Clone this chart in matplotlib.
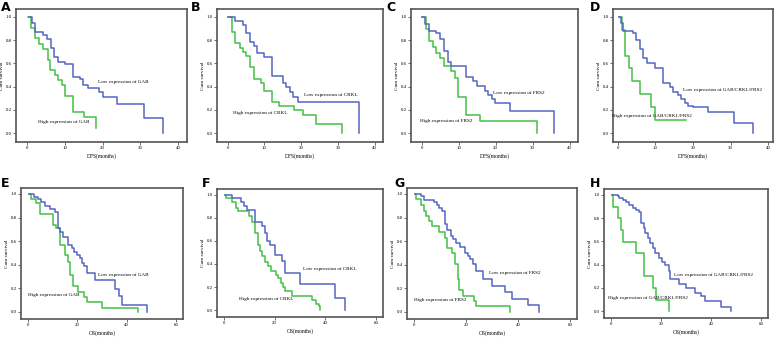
import matplotlib
matplotlib.use("Agg")
import matplotlib.pyplot as plt

# ---- data (Kaplan-Meier steps) ----
# DFS panels
a_low_t = [0.5, 1.4, 2.1, 4.3, 5.2, 6.3, 7.1, 8.3, 10.0, 12.1, 14.0, 14.9, 16.0, 19.0, 20.2, 23.9, 30.9, 36.0]
a_low_s = [1.0, 0.943, 0.866, 0.843, 0.809, 0.729, 0.651, 0.614, 0.594, 0.48, 0.466, 0.414, 0.386, 0.357, 0.314, 0.254, 0.129, 0.0]
a_high_t = [0.4, 1.1, 2.1, 3.3, 4.3, 5.5, 6.1, 7.4, 8.3, 9.2, 10.0, 12.1, 15.1, 18.2]
a_high_s = [1.0, 0.9, 0.82, 0.77, 0.72, 0.63, 0.54, 0.5, 0.46, 0.41, 0.32, 0.18, 0.14, 0.045]

b_low_t = [0.2, 1.9, 4.1, 5.0, 6.2, 7.2, 8.1, 10.0, 12.0, 15.1, 16.0, 16.9, 17.9, 19.1, 35.9]
b_low_s = [1.0, 0.963, 0.93, 0.857, 0.786, 0.75, 0.686, 0.65, 0.49, 0.434, 0.394, 0.357, 0.314, 0.266, 0.0]
b_high_t = [0.2, 1.2, 2.1, 3.3, 4.1, 5.0, 6.2, 7.2, 9.1, 10.0, 12.0, 14.1, 18.2, 20.4, 24.1, 31.1]
b_high_s = [1.0, 0.866, 0.771, 0.73, 0.70, 0.663, 0.566, 0.463, 0.434, 0.366, 0.266, 0.234, 0.2, 0.157, 0.08, 0.0]

c_low_t = [0.2, 0.9, 1.9, 4.0, 4.9, 5.9, 7.0, 7.9, 11.9, 13.9, 14.9, 17.0, 18.0, 19.0, 19.9, 23.8, 35.9]
c_low_s = [1.0, 0.934, 0.88, 0.857, 0.806, 0.709, 0.614, 0.58, 0.48, 0.451, 0.406, 0.366, 0.329, 0.291, 0.257, 0.194, 0.0]
c_high_t = [0.2, 1.1, 1.9, 3.0, 4.0, 5.0, 6.1, 7.9, 9.0, 9.9, 11.9, 15.9, 31.1]
c_high_s = [1.0, 0.895, 0.79, 0.743, 0.686, 0.643, 0.58, 0.53, 0.47, 0.314, 0.157, 0.106, 0.0]

d_low_t = [0.2, 0.7, 1.3, 4.0, 4.8, 5.8, 6.8, 7.7, 9.9, 11.9, 13.8, 14.8, 15.9, 16.8, 17.8, 18.7, 20.0, 24.0, 30.8, 36.0]
d_low_s = [1.0, 0.943, 0.88, 0.857, 0.8, 0.723, 0.643, 0.606, 0.563, 0.429, 0.394, 0.357, 0.329, 0.291, 0.263, 0.234, 0.229, 0.186, 0.091, 0.0]
d_high_t = [0.2, 1.1, 2.0, 2.9, 3.8, 5.9, 8.9, 9.9, 18.2]
d_high_s = [1.0, 0.886, 0.666, 0.557, 0.449, 0.334, 0.223, 0.114, 0.114]

# OS panels
e_low_t = [0.3, 2.3, 3.9, 5.3, 7.0, 9.0, 10.8, 12.1, 13.0, 14.4, 16.2, 17.8, 18.7, 19.8, 20.9, 21.9, 22.8, 23.9, 27.2, 35.3, 36.9, 38.0, 48.1]
e_low_s = [1.0, 0.972, 0.955, 0.929, 0.9, 0.872, 0.85, 0.71, 0.68, 0.637, 0.567, 0.538, 0.51, 0.482, 0.453, 0.416, 0.388, 0.334, 0.269, 0.198, 0.136, 0.062, 0.0]
e_high_t = [0.3, 1.3, 3.4, 5.0, 10.1, 11.5, 13.1, 15.1, 16.4, 17.1, 18.2, 20.1, 22.9, 24.1, 30.2, 44.4]
e_high_s = [1.0, 0.955, 0.92, 0.827, 0.74, 0.71, 0.567, 0.48, 0.425, 0.31, 0.22, 0.17, 0.127, 0.085, 0.037, 0.0]

f_low_t = [0.3, 3.1, 6.7, 7.8, 9.0, 12.1, 15.0, 16.1, 17.0, 18.1, 20.1, 23.0, 23.9, 30.1, 43.8, 47.8]
f_low_s = [1.0, 0.971, 0.937, 0.905, 0.87, 0.764, 0.732, 0.669, 0.602, 0.568, 0.481, 0.429, 0.323, 0.222, 0.107, 0.0]
f_high_t = [0.3, 0.9, 3.3, 4.7, 5.4, 10.0, 11.1, 12.1, 13.4, 14.1, 15.1, 16.1, 17.4, 18.7, 20.5, 21.4, 22.4, 23.4, 24.1, 26.8, 34.8, 36.2, 37.5, 37.9]
f_high_s = [1.0, 0.971, 0.937, 0.885, 0.856, 0.813, 0.764, 0.669, 0.568, 0.51, 0.467, 0.418, 0.38, 0.343, 0.308, 0.274, 0.236, 0.199, 0.164, 0.121, 0.084, 0.055, 0.035, 0.0]

g_low_t = [0.3, 2.7, 3.7, 7.7, 8.7, 9.6, 10.7, 11.7, 12.7, 14.0, 15.1, 16.0, 17.6, 19.6, 20.7, 21.6, 22.7, 23.7, 26.7, 30.0, 34.9, 37.7, 44.0, 48.0]
g_low_s = [1.0, 0.98, 0.952, 0.929, 0.909, 0.88, 0.852, 0.744, 0.693, 0.645, 0.616, 0.58, 0.551, 0.503, 0.474, 0.446, 0.409, 0.347, 0.281, 0.219, 0.168, 0.111, 0.057, 0.0]
g_high_t = [0.1, 0.7, 2.7, 3.7, 4.7, 5.6, 6.7, 9.6, 11.7, 12.7, 14.7, 15.6, 16.7, 17.3, 18.7, 23.1, 24.0, 37.1]
g_high_s = [1.0, 0.957, 0.909, 0.858, 0.815, 0.773, 0.724, 0.679, 0.625, 0.545, 0.503, 0.409, 0.276, 0.182, 0.134, 0.091, 0.048, 0.0]

h_low_t = [0.3, 2.7, 3.3, 4.7, 6.0, 7.2, 8.6, 9.9, 11.0, 12.0, 13.0, 13.6, 14.6, 15.6, 16.6, 17.6, 19.0, 20.3, 21.4, 23.0, 23.7, 27.0, 29.9, 33.4, 36.1, 37.7, 44.0, 48.1]
h_low_s = [1.0, 0.986, 0.971, 0.957, 0.934, 0.914, 0.89, 0.87, 0.85, 0.755, 0.712, 0.674, 0.631, 0.582, 0.539, 0.496, 0.458, 0.424, 0.395, 0.343, 0.274, 0.236, 0.199, 0.156, 0.127, 0.084, 0.035, 0.0]
h_high_t = [0.3, 0.9, 2.9, 3.9, 4.9, 9.9, 13.0, 16.6, 17.9, 23.0]
h_high_s = [1.0, 0.899, 0.798, 0.697, 0.597, 0.496, 0.3, 0.199, 0.098, 0.0]

labels = ["A", "B", "C", "D", "E", "F", "G", "H"]
genes = ["GAB", "CRKL", "FRS2", "GAB/CRKL/FRS2"] * 2
xlabels = ["DFS(months)"] * 4 + ["OS(months)"] * 4
low_curves = [(a_low_t, a_low_s), (b_low_t, b_low_s), (c_low_t, c_low_s), (d_low_t, d_low_s),
              (e_low_t, e_low_s), (f_low_t, f_low_s), (g_low_t, g_low_s), (h_low_t, h_low_s)]
high_curves = [(a_high_t, a_high_s), (b_high_t, b_high_s), (c_high_t, c_high_s), (d_high_t, d_high_s),
               (e_high_t, e_high_s), (f_high_t, f_high_s), (g_high_t, g_high_s), (h_high_t, h_high_s)]
low_text_pos = [(18.7, 0.437), (20.7, 0.329), (19.4, 0.343), (17.3, 0.371),
                (28.3, 0.312), (31.2, 0.352), (28.7, 0.332), (25.3, 0.308)]
high_text_pos = [(3.0, 0.094), (1.5, 0.177), (-0.5, 0.109), (-1.6, 0.149),
                 (0.0, 0.142), (5.8, 0.092), (0.0, 0.105), (-1.3, 0.112)]

# ---- layout (pixel boxes: left, right, top, bottom) ----
W, H = 778, 337
boxes = [(16, 187, 9, 142), (217, 383, 9, 142), (411, 578, 9, 142), (613, 773, 9, 142),
         (21, 183, 188, 319), (217, 383, 189, 317), (407, 577, 188, 319), (604, 768, 189, 318)]
xlims = [(-2.9, 42.3), (-2.9, 42.3), (-2.9, 42.3), (-1.3, 41.3),
         (-2.8, 62.8), (-2.8, 62.8), (-2.8, 62.8), (-2.8, 62.8)]
ylims = [(-0.075, 1.066)] * 4 + [(-0.06, 1.05)] * 4
letter_pos = [(1, 1), (191, 1), (386, 1), (590, 1), (1, 177), (202, 177), (394, 177), (590, 177)]

blue = "#5566c4"
green = "#44c044"
frame = "#555555"
serif = "Liberation Serif"

fig = plt.figure(figsize=(W / 100, H / 100), dpi=100)

for i in range(8):
    l, r, t, b = boxes[i]
    ax = fig.add_axes([l / W, 1 - b / H, (r - l) / W, (b - t) / H])
    lt, ls = low_curves[i]
    ht, hs = high_curves[i]
    ax.step(ht, hs, where="post", color=green, lw=1.1)
    ax.step(lt, ls, where="post", color=blue, lw=1.1)
    ax.set_xlim(*xlims[i])
    ax.set_ylim(*ylims[i])
    if i < 4:
        ax.set_xticks([0, 10, 20, 30, 40])
    else:
        ax.set_xticks([0, 20, 40, 60])
    ax.set_yticks([0.0, 0.2, 0.4, 0.6, 0.8, 1.0])
    ax.set_yticklabels(["0.0", "0.2", "0.4", "0.6", "0.8", "1.0"])
    ax.tick_params(labelsize=3.5, length=2, width=0.6, color=frame, pad=1)
    for lab in ax.get_xticklabels() + ax.get_yticklabels():
        lab.set_fontfamily(serif)
    for sp in ax.spines.values():
        sp.set_color(frame)
        sp.set_linewidth(1.2)
    ax.set_xlabel(xlabels[i], fontsize=4, family=serif, labelpad=2)
    ax.set_ylabel("Cum survival", fontsize=3.8, family=serif, labelpad=1)
    gene = genes[i]
    ax.text(*low_text_pos[i], "Low expression of " + gene, fontsize=3.7, family=serif,
            va="center", ha="left")
    ax.text(*high_text_pos[i], "High expression of " + gene, fontsize=3.7, family=serif,
            va="center", ha="left")
    lx, ly = letter_pos[i]
    fig.text(lx / W, 1 - ly / H, labels[i], fontsize=9, fontweight="bold",
             family="DejaVu Sans", va="top", ha="left")

fig.savefig("out.png", dpi=100)
